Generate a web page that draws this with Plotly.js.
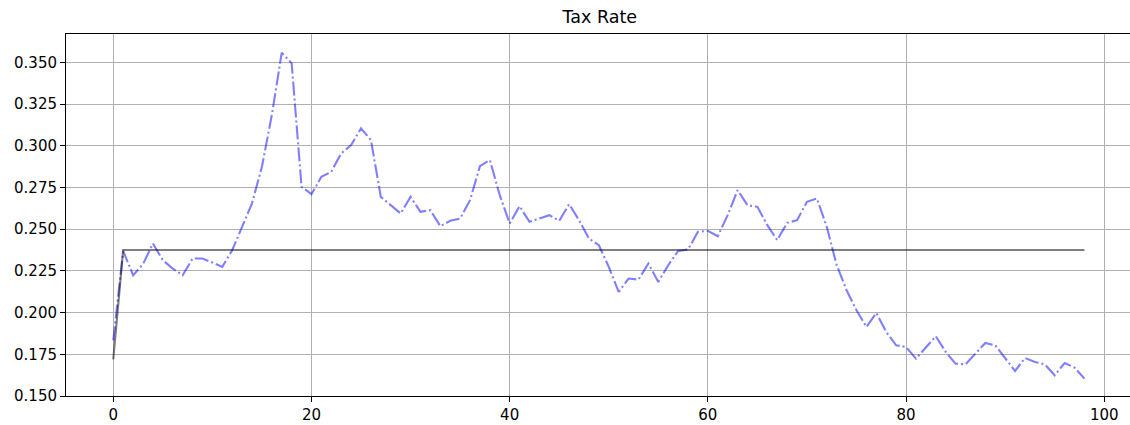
<!DOCTYPE html>
<html>
<head>
<meta charset="utf-8">
<script src="https://cdn.plot.ly/plotly-3.0.1.min.js"></script>
<style>
html, body { margin: 0; padding: 0; overflow: hidden; background: #fff; }
#chart { width: 1136px; height: 425px; }
</style>
</head>
<body>
<div id="chart"></div>
<script>
// Tax rate series (index 0..98)
var taxRate = [
  0.1834, 0.2370, 0.2224, 0.2290, 0.2414, 0.2314, 0.2264, 0.2224, 0.2324, 0.2324,
  0.2300, 0.2274, 0.2374, 0.2514, 0.2655, 0.2874, 0.3184, 0.3558, 0.3495, 0.2754,
  0.2710, 0.2814, 0.2844, 0.2954, 0.3004, 0.3104, 0.3034, 0.2694, 0.2644, 0.2594,
  0.2694, 0.2604, 0.2614, 0.2518, 0.2550, 0.2564, 0.2674, 0.2878, 0.2914, 0.2704,
  0.2534, 0.2638, 0.2544, 0.2564, 0.2584, 0.2550, 0.2650, 0.2554, 0.2444, 0.2404,
  0.2274, 0.2124, 0.2204, 0.2198, 0.2294, 0.2184, 0.2284, 0.2370, 0.2378, 0.2484,
  0.2490, 0.2458, 0.2584, 0.2734, 0.2644, 0.2634, 0.2524, 0.2434, 0.2538, 0.2554,
  0.2664, 0.2684, 0.2514, 0.2284, 0.2134, 0.2014, 0.1914, 0.1998, 0.1884, 0.1804,
  0.1794, 0.1724, 0.1794, 0.1858, 0.1764, 0.1694, 0.1690, 0.1754, 0.1818, 0.1804,
  0.1724, 0.1650, 0.1728, 0.1704, 0.1690, 0.1624, 0.1698, 0.1670, 0.1604
];
// Reference (constant) rate line
var refStart = 0.1720;
var refLevel = 0.2375;

var xs = [];
for (var i = 0; i < taxRate.length; i++) xs.push(i);
var refY = xs.map(function (i) { return i === 0 ? refStart : refLevel; });

var yTicks = [0.150, 0.175, 0.200, 0.225, 0.250, 0.275, 0.300, 0.325, 0.350];
var xTicks = [0, 20, 40, 60, 80, 100];

var traces = [
  {
    x: xs, y: taxRate, type: 'scatter', mode: 'lines',
    line: { color: 'rgba(0,0,255,0.5)', width: 2.1, dash: '14px,3px,2px,3px' },
    hoverinfo: 'skip', showlegend: false
  },
  {
    x: xs, y: refY, type: 'scatter', mode: 'lines',
    line: { color: 'rgba(0,0,0,0.5)', width: 2.1 },
    hoverinfo: 'skip', showlegend: false
  }
];

var font = { family: 'DejaVu Sans, sans-serif', size: 15, color: '#000' };

var layout = {
  width: 1136, height: 425,
  margin: { l: 66, r: 3, t: 34, b: 29, pad: 0 },
  paper_bgcolor: '#fff', plot_bgcolor: '#fff',
  font: font,
  title: { text: 'Tax Rate', x: 0.528, xanchor: 'center', y: 0.96, yanchor: 'middle',
           font: { family: 'DejaVu Sans, sans-serif', size: 17.5, color: '#000' } },
  showlegend: false,
  xaxis: {
    range: [-4.77, 102.9], tickvals: xTicks, ticktext: xTicks.map(String),
    ticks: 'outside', ticklen: 5, tickwidth: 1, tickcolor: '#000',
    showline: true, mirror: true, linecolor: '#000', linewidth: 1,
    showgrid: true, gridcolor: '#b0b0b0', gridwidth: 1, zeroline: false,
    tickfont: font
  },
  yaxis: {
    range: [0.1500, 0.3670], tickvals: yTicks, ticktext: yTicks.map(function (v) { return v.toFixed(3); }),
    ticks: 'outside', ticklen: 5, tickwidth: 1, tickcolor: '#000',
    showline: true, mirror: true, linecolor: '#000', linewidth: 1,
    showgrid: true, gridcolor: '#b0b0b0', gridwidth: 1, zeroline: false,
    tickfont: font
  }
};

Plotly.newPlot('chart', traces, layout, { staticPlot: true, displayModeBar: false });
</script>
</body>
</html>
